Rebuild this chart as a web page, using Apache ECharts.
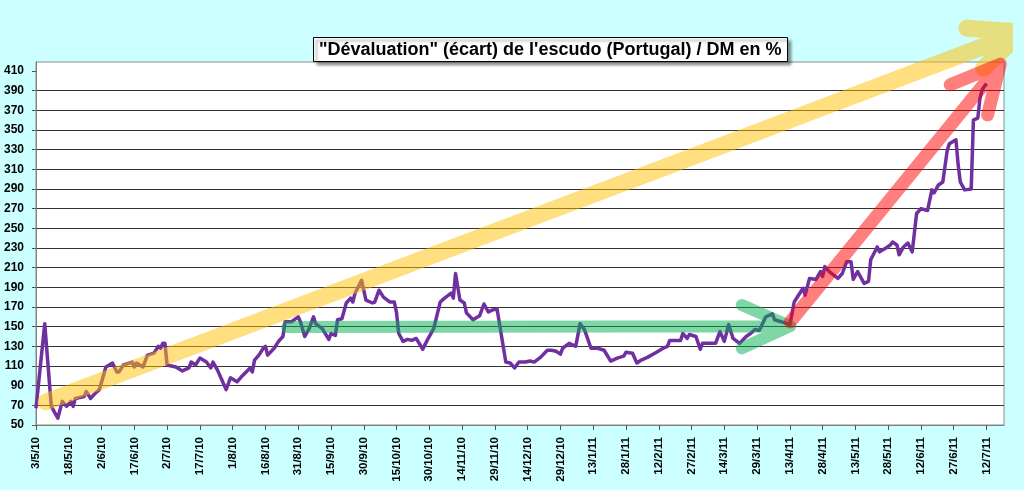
<!DOCTYPE html>
<html>
<head>
<meta charset="utf-8">
<script src="https://cdn.jsdelivr.net/npm/echarts@6.0.0/dist/echarts.min.js"></script>
<style>
html,body{margin:0;padding:0;background:#ccffff;}
#chart{width:1024px;height:490px;}
</style>
</head>
<body>
<div id="chart"></div>
<script>
// x values are days counted from 3/5/10
const tickLabels = ['3/5/10','18/5/10','2/6/10','17/6/10','2/7/10','17/7/10','1/8/10','16/8/10','31/8/10','15/9/10','30/9/10','15/10/10','30/10/10','14/11/10','29/11/10','14/12/10','29/12/10','13/1/11','28/1/11','12/2/11','27/2/11','14/3/11','29/3/11','13/4/11','28/4/11','13/5/11','28/5/11','12/6/11','27/6/11','12/7/11'];
const yTicks = [50,70,90,110,130,150,170,190,210,230,250,270,290,310,330,350,370,390,410];

const days = [0,4,7,10,12,14,16,17,18,22,23,25,27,29,32,35,37,38,40,44,45,46,49,51,54,56,57,58,59,60,64,67,70,71,73,75,78,80,81,83,84,87,89,92,94,98,99,100,102,104,105,106,109,111,113,114,117,120,121,123,125,127,128,131,134,135,137,138,140,142,144,145,146,149,151,154,155,157,159,162,164,165,166,168,170,172,174,177,179,182,185,187,190,191,192,194,196,197,200,203,205,207,209,211,215,217,219,221,224,226,228,231,234,236,238,240,241,244,247,249,251,254,257,260,263,266,269,270,273,275,277,280,284,287,289,290,295,296,298,299,302,304,305,309,311,313,315,317,319,322,325,327,329,331,334,337,338,341,345,347,351,352,354,357,359,360,361,363,367,369,371,373,374,376,379,381,382,385,386,389,391,392,394,395,397,399,401,403,405,408,410,411,413,415,417,418,421,422,423,425,428,429,431,432,433,435];
const values = [67,153,69,57,74,69,74,69,77,79,84,77,82,86,109,113,104,104,111,114,109,113,109,121,123,130,128,133,133,111,109,105,108,114,111,118,114,108,114,106,101,86,98,94,99,108,104,116,121,128,130,121,128,135,140,155,155,160,155,140,148,160,153,148,137,143,141,157,158,174,179,175,184,197,177,174,175,187,180,175,175,164,143,135,137,136,138,127,136,148,175,179,184,179,204,177,174,164,157,161,173,165,167,168,114,113,108,114,114,115,114,119,126,126,125,122,128,133,130,153,147,128,128,126,115,118,120,124,123,113,116,119,124,128,130,136,136,143,138,142,140,127,133,133,133,145,135,152,138,133,140,143,147,146,160,163,157,155,152,175,189,182,199,198,206,201,211,206,199,204,216,216,198,206,194,196,218,231,226,230,233,236,233,223,231,235,226,265,270,268,289,286,294,297,329,336,340,315,297,289,290,360,362,382,391,397];

// annotation arrows: shaft start, tip, wing, tip, wing  (day, value)
const yellowArrow = [[4.6,73.5],[450.8,449.4],[426,453.4],[450.8,449.4],[433.7,412.7]];
const greenArrow = [[115,149.5],[345.2,150.5],[323,172],[345.2,150.5],[323,128]];
const redArrow = [[345.2,154.8],[441.3,416.8],[418.4,395.8],[441.3,416.8],[435.5,365.3]];

const seriesData = days.map((d, i) => [d, values[i]]);
const FONT = '"Liberation Sans", Arial, sans-serif';

function arrow(name, pts, color, width, opacity) {
  return {
    name: name, type: 'line', data: pts, showSymbol: false, symbol: 'none',
    clip: false, silent: true, z: 5,
    lineStyle: {color: color, width: width, opacity: opacity, cap: 'round', join: 'round'}
  };
}

const chart = echarts.init(document.getElementById('chart'));
chart.setOption({
  animation: false,
  backgroundColor: '#ccffff',
  title: {
    text: '"Dévaluation" (écart) de l\'escudo (Portugal) / DM en %',
    left: 313, top: 37,
    padding: [2, 6, 1, 6],
    backgroundColor: '#ffffff',
    borderColor: '#000000', borderWidth: 1,
    shadowColor: 'rgba(0,0,0,0.45)', shadowBlur: 3, shadowOffsetX: 3, shadowOffsetY: 3,
    textStyle: {fontFamily: FONT, fontSize: 18, lineHeight: 22, fontWeight: 'bold', color: '#000'}
  },
  grid: {
    left: 36, top: 62, right: 20, bottom: 65,
    show: true, backgroundColor: '#ffffff', borderColor: '#8c8c8c', borderWidth: 1,
    containLabel: false, outerBoundsMode: 'none'
  },
  xAxis: {
    type: 'value', min: 0, max: 443, interval: 15,
    splitLine: {show: false},
    axisLine: {show: true, lineStyle: {color: '#808080', width: 1}},
    axisTick: {show: true, length: 5, lineStyle: {color: '#555'},
      customValues: tickLabels.map((t, i) => i * 15)},
    axisLabel: {
      rotate: 90, margin: 12, fontFamily: FONT, fontSize: 11.5, fontWeight: 'bold', color: '#000',
      customValues: tickLabels.map((t, i) => i * 15),
      formatter: function (v) {
        const i = Math.round(v / 15);
        return (Math.abs(v - i * 15) < 1e-6 && tickLabels[i]) ? tickLabels[i] : '';
      }
    }
  },
  yAxis: {
    type: 'value', min: 50, max: 419, interval: 20,
    axisLine: {show: true, lineStyle: {color: '#808080', width: 1}},
    axisTick: {show: true, length: 4, lineStyle: {color: '#555'}, customValues: yTicks},
    splitLine: {show: true, showMaxLine: false, lineStyle: {color: '#333', width: 1}},
    axisLabel: {
      margin: 12, fontFamily: FONT, fontSize: 12, fontWeight: 'bold', color: '#000',
      customValues: yTicks,
      formatter: function (v) { return yTicks.indexOf(v) >= 0 ? String(v) : ''; }
    }
  },
  series: [
    {
      name: 'escudo', type: 'line', data: seriesData, showSymbol: false, symbol: 'none',
      z: 3, lineStyle: {color: '#7030a0', width: 3.5, join: 'round'}
    },
    arrow('yellow', yellowArrow, 'rgb(255,192,0)', 17, 0.5),
    arrow('green', greenArrow, 'rgb(0,176,80)', 12, 0.5),
    arrow('red', redArrow, 'rgb(255,0,0)', 13, 0.5)
  ]
});
</script>
</body>
</html>
